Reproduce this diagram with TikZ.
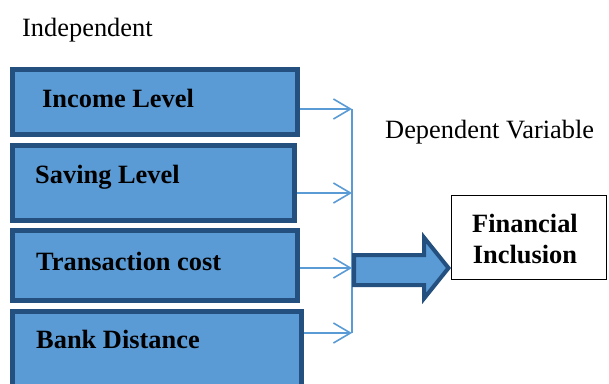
\documentclass[tikz,border=0pt]{standalone}
\usepackage{fontspec}
\setmainfont{Liberation Serif}
\usetikzlibrary{arrows.meta}
\definecolor{boxfill}{HTML}{5B9BD5}
\definecolor{boxedge}{HTML}{24507F}
\definecolor{linkblue}{HTML}{5B9BD5}
\begin{document}
\begin{tikzpicture}[x=1pt,y=-1pt,
  ivbox/.style={draw=boxedge, fill=boxfill, line width=5pt, rectangle, inner sep=0pt},
  lbl/.style={anchor=base west, inner sep=0pt, font=\fontsize{26.4}{31}\selectfont\bfseries},
  plain/.style={anchor=base west, inner sep=0pt, font=\fontsize{26.4}{31}\selectfont},
  link/.style={draw=linkblue, line width=1.6pt, -{Straight Barb[length=17pt,width=20pt,line width=1.6pt]}},
  dvbox/.style={draw=black, line width=1pt, fill=white, rectangle, inner sep=0pt}
]
\useasboundingbox (0,0) rectangle (609,383);
\clip (0,0) rectangle (609,383);

% headings
\node[plain] (indep) at (22,36) {Independent};
\node[plain] (dep) at (385,138) {Dependent Variable};

% independent variable boxes
\node[ivbox, minimum width=285pt, minimum height=65pt] (b1) at (155,102) {};
\node[ivbox, minimum width=282pt, minimum height=75pt] (b2) at (153.5,183) {};
\node[ivbox, minimum width=285pt, minimum height=70pt] (b3) at (155,265.5) {};
\node[ivbox, minimum width=289pt, minimum height=86pt] (b4) at (157,354.5) {};

\node[lbl] (t1) at (42,107) {Income Level};
\node[lbl] (t2) at (35,183) {Saving Level};
\node[lbl] (t3) at (36,270) {Transaction cost};
\node[lbl] (t4) at (36,348) {Bank Distance};

% junction points on the collecting line
\coordinate (j1) at (352,109);
\coordinate (j2) at (352,193);
\coordinate (j3) at (352,268);
\coordinate (j4) at (352,333);

\draw[draw=linkblue, line width=1.6pt] (j1) -- (j4);
\draw[link] (b1.east |- j1) -- (j1);
\draw[link] (b2.east |- j2) -- (j2);
\draw[link] (b3.east |- j3) -- (j3);
\draw[link] (b4.east |- j4) -- (j4);

% dependent variable box
\node[dvbox, minimum width=155pt, minimum height=84pt] (fi) at (528.5,237) {};
\node[inner sep=0pt, align=center, font=\fontsize{26.4}{31}\selectfont\bfseries] (fitext) at (525,238.5) {Financial\\Inclusion};

% big block arrow
\draw[draw=boxedge, fill=boxfill, line width=4pt, line join=miter]
  (354,255) -- (424,255) -- (424,237.5) -- (448.5,268) -- (424,298.5) -- (424,285) -- (354,285) -- cycle;
\end{tikzpicture}
\end{document}
